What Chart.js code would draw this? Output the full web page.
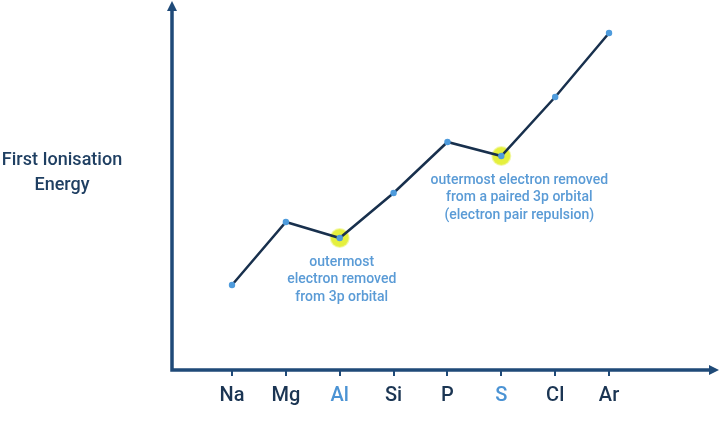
<!DOCTYPE html>
<html>
<head>
<meta charset="utf-8">
<script src="https://cdn.jsdelivr.net/npm/chart.js@4/dist/chart.umd.min.js"></script>
<style>
html,body{margin:0;padding:0;background:#fff;}
#wrap{width:720px;height:447px;position:relative;}
</style>
</head>
<body>
<div id="wrap"><canvas id="c" width="720" height="447"></canvas></div>
<script>
const elements = ['Na','Mg','Al','Si','P','S','Cl','Ar'];
const energy = [85, 148, 132, 177, 228, 214, 273, 337];
const highlighted = [null, null, 132, null, null, 214, null, null];
const labelColors = ['#1b3553','#1b3553','#4b93d4','#1b3553','#1b3553','#4b93d4','#1b3553','#1b3553'];
const yTitle = ['First Ionisation', 'Energy'];
const notes = [
  {at: 2, lines: ['outermost', 'electron removed', 'from 3p orbital']},
  {at: 5, lines: ['outermost electron removed', 'from a paired 3p orbital', '(electron pair repulsion)']}
];

const NAVY = '#18304d';
const AXIS = '#1f4a78';

const decor = {
  id: 'decor',
  afterDraw(chart) {
    const ctx = chart.ctx;
    const x = chart.scales.x, y = chart.scales.y;
    const ca = chart.chartArea;
    ctx.save();
    // axes
    ctx.strokeStyle = AXIS; ctx.fillStyle = AXIS; ctx.lineWidth = 3.5;
    ctx.beginPath();
    ctx.moveTo(ca.left, 8); ctx.lineTo(ca.left, ca.bottom); ctx.lineTo(713, ca.bottom);
    ctx.stroke();
    ctx.beginPath();
    ctx.moveTo(ca.left, 1); ctx.lineTo(ca.left - 5, 11); ctx.lineTo(ca.left + 5, 11); ctx.closePath(); ctx.fill();
    ctx.beginPath();
    ctx.moveTo(719, ca.bottom); ctx.lineTo(709, ca.bottom - 5); ctx.lineTo(709, ca.bottom + 5); ctx.closePath(); ctx.fill();
    // y title
    ctx.fillStyle = '#1f3f62';
    ctx.font = '500 18px Roboto';
    ctx.textAlign = 'center'; ctx.textBaseline = 'middle';
    ctx.fillText(yTitle[0], 62, 160);
    ctx.fillText(yTitle[1], 62, 185);
    // notes
    ctx.fillStyle = '#5a9bd6';
    ctx.font = '500 14px Roboto';
    notes.forEach(n => {
      const px = x.getPixelForValue(n.at) + (n.at === 5 ? 18 : 2);
      const py = y.getPixelForValue(energy[n.at]);
      n.lines.forEach((l, i) => ctx.fillText(l, px, py + 24 + i * 17.5));
    });
    ctx.restore();
  }
};

new Chart(document.getElementById('c'), {
  type: 'line',
  data: {
    datasets: [
      {
        data: energy.map((v, i) => ({x: i, y: v})),
        borderColor: NAVY, borderWidth: 2.5,
        pointRadius: 3.2, pointBackgroundColor: '#4e9bdc', pointBorderWidth: 0,
        tension: 0, order: 1
      },
      {
        data: highlighted.map((v, i) => ({x: i, y: v})),
        showLine: false,
        pointRadius: 9, pointBackgroundColor: 'rgba(226,238,40,0.9)', pointBorderColor: 'rgba(232,242,90,0.5)', pointBorderWidth: 2,
        order: 2
      }
    ]
  },
  options: {
    responsive: false, animation: false,
    layout: {padding: {left: 172, right: 5, top: 5, bottom: 0}},
    plugins: {legend: {display: false}, tooltip: {enabled: false}},
    scales: {
      x: {
        type: 'linear', min: -1.114, max: 8.856,
        afterBuildTicks(s) { s.ticks = elements.map((e, i) => ({value: i})); },
        afterFit(s) { s.height = 77; },
        border: {display: false},
        grid: {drawOnChartArea: false, drawTicks: true, tickLength: 6, color: AXIS, lineWidth: 2},
        ticks: {
          callback: v => elements[v],
          color: ctx => labelColors[ctx.index],
          font: {family: 'Roboto', size: 20, weight: '500'},
          padding: 8, maxRotation: 0, autoSkip: false
        }
      },
      y: {
        min: 0, max: 359, display: false
      }
    }
  },
  plugins: [decor]
});
</script>
</body>
</html>
